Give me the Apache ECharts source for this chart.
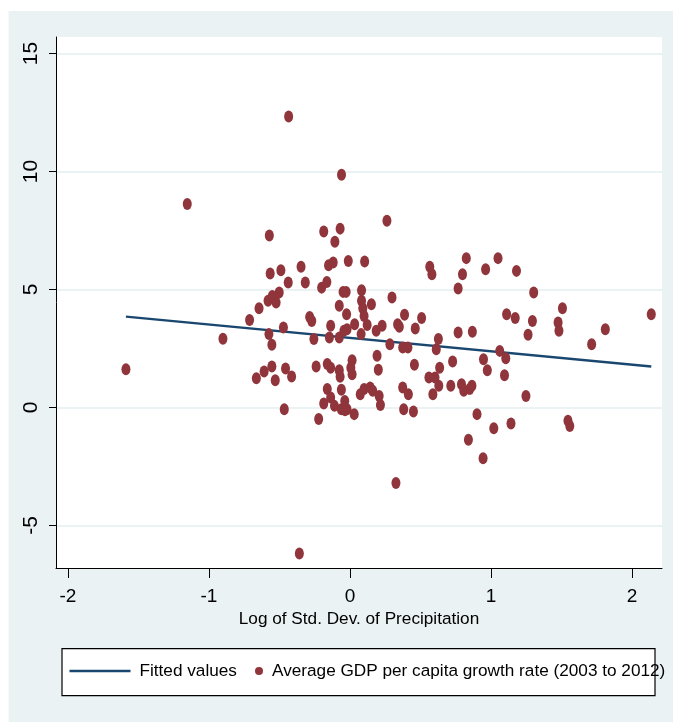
<!DOCTYPE html>
<html><head><meta charset="utf-8">
<script src="https://cdn.jsdelivr.net/npm/echarts@6/dist/echarts.min.js"></script>
<style>html,body{margin:0;padding:0;background:#fff}#c{width:673px;height:722px}</style>
</head><body><div id="c"></div>
<script>
// Log of Std. Dev. of Precipitation (x) and Average GDP per capita growth rate 2003-2012 (y)
const precipX = [
 -0.435,-0.06,-1.154,0.262,-0.572,-0.186,-0.07,-0.107,-1.589,-0.901,
 -0.712,-0.664,-0.645,-0.609,-0.581,-0.566,-0.575,-0.554,-0.554,-0.551,
 -0.53,-0.524,-0.502,-0.49,-0.472,-0.466,-0.457,-0.438,-0.414,-0.347,
 -0.317,-0.286,-0.271,-0.256,-0.24,-0.222,-0.201,-0.186,-0.164,-0.161,
 -0.161,-0.152,-0.146,-0.137,-0.137,-0.137,-0.119,-0.11,-0.076,-0.076,
 -0.076,-0.07,-0.061,-0.061,-0.049,-0.043,-0.037,-0.027,-0.024,-0.021,
 -0.021,-0.012,0.006,0.015,0.015,0.03,0.033,0.073,0.079,0.082,
 0.082,0.091,0.1,0.1,0.104,0.122,0.143,0.152,0.161,0.186,
 0.192,0.201,0.207,0.216,0.228,0.283,0.298,0.338,0.35,0.374,
 0.381,0.387,0.374,0.411,0.414,0.45,0.457,0.463,0.508,0.56,
 0.566,0.581,0.588,0.603,0.612,0.627,0.63,0.636,0.715,0.728,
 0.767,0.767,0.791,0.798,0.807,0.825,0.84,0.849,0.865,0.868,
 0.901,0.944,0.947,0.962,0.974,1.02,1.05,1.062,1.096,1.105,
 1.111,1.142,1.172,1.181,1.248,1.263,1.294,1.303,1.476,1.482,
 1.507,1.546,1.559,1.714,1.811,2.137,0.326,-0.359,-0.035
];
const growthY = [
 12.33,9.86,8.62,7.91,7.29,7.46,7.58,7.02,1.62,2.91,
 3.71,1.24,4.21,1.53,4.52,5.68,3.11,2.66,1.74,4.73,
 1.16,4.45,4.87,5.82,3.39,-0.07,1.65,5.30,1.31,5.96,
 5.30,3.84,3.67,2.90,1.74,-0.49,5.08,0.17,5.32,0.78,
 1.84,6.03,2.97,3.46,1.69,0.42,6.14,0.07,4.31,2.97,
 1.58,1.30,0.75,-0.07,4.90,3.25,0.28,4.90,3.95,3.32,
 -0.07,6.21,1.69,2.0,1.41,-0.28,3.53,0.56,3.11,4.97,
 4.52,4.21,3.88,0.78,6.19,3.50,0.85,4.38,0.71,3.25,
 2.19,1.60,0.49,0.11,3.46,2.68,4.66,3.53,3.42,0.85,
 -0.07,3.93,2.54,2.54,0.56,-0.17,1.81,3.35,3.79,1.27,
 5.96,5.65,0.56,1.27,2.47,2.90,0.92,1.69,0.92,1.95,
 5.04,3.18,0.99,5.65,0.71,6.33,-1.37,0.78,0.92,3.21,
 -0.28,-2.15,2.05,5.86,1.58,-0.88,6.33,2.40,1.37,2.09,
 3.95,-0.68,3.79,5.79,0.49,3.08,3.67,4.87,3.60,3.25,
 4.21,-0.56,-0.78,2.68,3.32,3.95,-3.2,-6.19,-0.12
];
const fitX = [-1.589, 2.137];
const fitY = [3.85, 1.74];
const xTicks = [-2, -1, 0, 1, 2];
const yTicks = [-5, 0, 5, 10, 15];
const seriesNames = ['Fitted values', 'Average GDP per capita growth rate (2003 to 2012)'];
const xTitle = 'Log of Std. Dev. of Precipitation';

const FONT = "'Liberation Sans','Arimo',Arial,sans-serif";
const BG = '#eaf2f3';
const MAROON = '#90353b';
const NAVY = '#1a476f';
const ELLIPSE = 'path://M0,-1 A1,1 0 1,1 0,1 A1,1 0 1,1 0,-1Z';

const chart = echarts.init(document.getElementById('c'), null, {renderer: 'canvas'});
chart.setOption({
  animation: false,
  backgroundColor: '#ffffff',
  graphic: [
    {type: 'rect', z: -10, shape: {x: 8.6, y: 11, width: 665, height: 712}, style: {fill: BG}},
    {type: 'rect', z: -5, shape: {x: 62, y: 648.7, width: 593, height: 47}, style: {fill: '#fff', stroke: '#000', lineWidth: 1.2}}
  ],
  grid: {left: 56, right: 11, top: 37, bottom: 154, show: true, backgroundColor: '#fff', borderWidth: 0, containLabel: false},
  xAxis: {
    type: 'value', min: -2.085, max: 2.213,
    axisLine: {show: true, onZero: false, lineStyle: {color: '#000', width: 1}},
    axisTick: {show: true, length: 10, customValues: xTicks, lineStyle: {color: '#000'}},
    axisLabel: {customValues: xTicks, color: '#000', fontFamily: FONT, fontSize: 19, margin: 19},
    splitLine: {show: false},
    name: xTitle, nameLocation: 'middle', nameGap: 43,
    nameTextStyle: {color: '#000', fontFamily: FONT, fontSize: 17.2}
  },
  yAxis: {
    type: 'value', min: -6.8, max: 15.7,
    axisLine: {show: true, onZero: false, lineStyle: {color: '#000', width: 1}},
    axisTick: {show: true, length: 7, customValues: yTicks, lineStyle: {color: '#000'}},
    axisLabel: {customValues: yTicks, color: '#000', fontFamily: FONT, fontSize: 21, rotate: 90, margin: 14},
    splitLine: {show: true, lineStyle: {color: BG, width: 2.2}}
  },
  legend: [
    {data: [{name: seriesNames[0], icon: 'rect'}], left: 69.5, top: 662.5, padding: 0, itemWidth: 61, itemHeight: 2.4,
     itemStyle: {color: NAVY},
     textStyle: {color: '#000', fontFamily: FONT, fontSize: 17.2, padding: [0, 0, 0, 4]}},
    {data: [{name: seriesNames[1], icon: ELLIPSE}], left: 255, top: 662.5, padding: 0, itemWidth: 8, itemHeight: 12,
     textStyle: {color: '#000', fontFamily: FONT, fontSize: 17.2, padding: [0, 0, 0, 4]}}
  ],
  series: [
    {name: seriesNames[0], type: 'line', symbol: 'none', z: 2,
     data: fitX.map((x, i) => [x, fitY[i]]),
     lineStyle: {color: NAVY, width: 2.4}, itemStyle: {color: NAVY}},
    {name: seriesNames[1], type: 'scatter', symbol: ELLIPSE, symbolSize: [9, 12], z: 3,
     data: precipX.map((x, i) => [x, growthY[i]]),
     itemStyle: {color: MAROON, opacity: 1}}
  ]
});
</script></body></html>
